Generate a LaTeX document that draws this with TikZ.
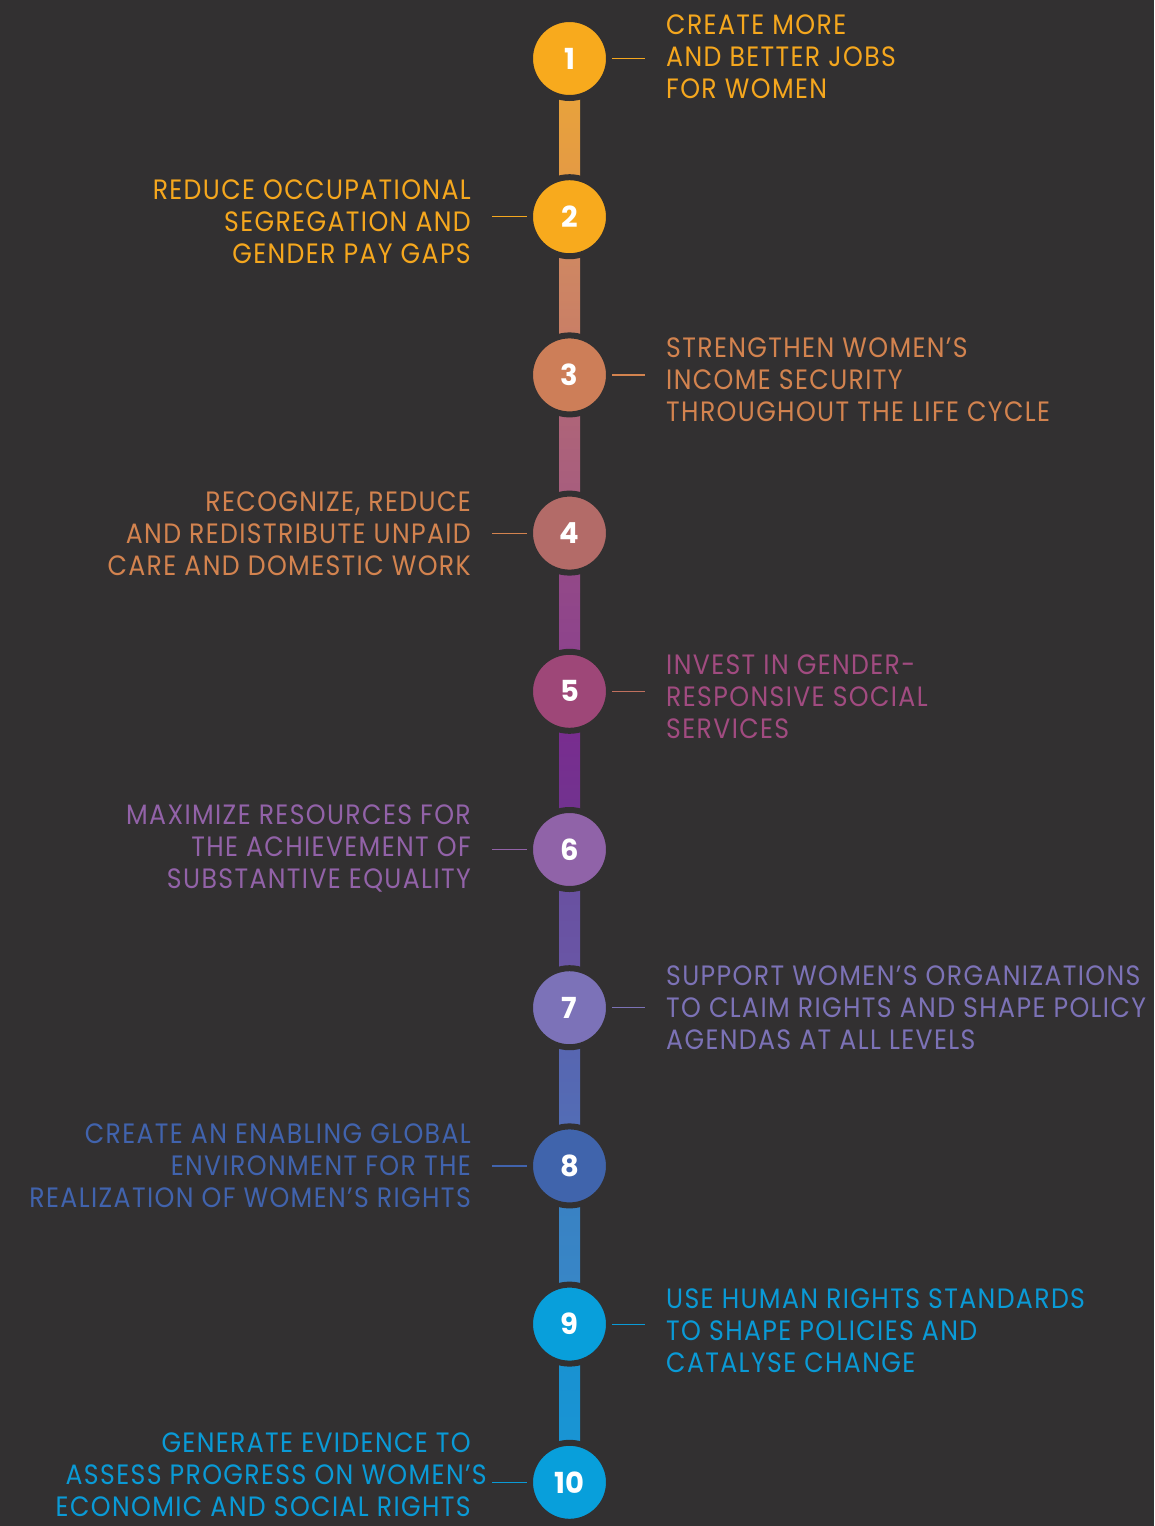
\documentclass[tikz,border=0pt]{standalone}
\usepackage{fontspec}
\setmainfont{Poppins}[FakeStretch=0.9, LetterSpace=4.9]
\newfontfamily\numfont{Poppins}
\usetikzlibrary{calc}
\definecolor{bg}{RGB}{50,48,49}
\definecolor{cA}{HTML}{F8AA1D}
\definecolor{cC}{HTML}{CD7E58}
\definecolor{cD}{HTML}{B36B68}
\definecolor{cE}{HTML}{9E4778}
\definecolor{cF}{HTML}{9063A8}
\definecolor{cG}{HTML}{7C72B8}
\definecolor{cH}{HTML}{4064AC}
\definecolor{cI}{HTML}{089FDB}
\definecolor{tA}{HTML}{F5A71E}
\definecolor{tC}{HTML}{D3834F}
\definecolor{tE}{HTML}{A14B80}
\definecolor{tF}{HTML}{9262A8}
\definecolor{tG}{HTML}{7C72B6}
\definecolor{tH}{HTML}{4163AD}
\definecolor{tI}{HTML}{0A9AD6}
\definecolor{lE}{HTML}{C0705E}
\begin{document}
\begin{tikzpicture}[x=1pt,y=-1pt,
  numc/.style={circle, minimum size=79pt, inner sep=0pt, line width=6pt, draw=bg, fill=#1, text=white,
    font=\numfont\bfseries\fontsize{29}{29}\selectfont},
  rtext/.style={anchor=west, align=left, inner sep=0pt, text=#1, font=\fontsize{28}{32}\selectfont},
  ltext/.style={anchor=east, align=right, inner sep=0pt, text=#1, font=\fontsize{28}{32}\selectfont},
  rconn/.style={draw=#1, line width=1.2pt, shorten >=21pt},
  lconn/.style={draw=#1, line width=1.2pt, shorten <=21pt}]
\fill[bg] (0,0) rectangle (1154,1526);
\useasboundingbox (0,0) rectangle (1154,1526);
% bar segments
\shade[top color={rgb,255:red,234;green,166;blue,56}, bottom color={rgb,255:red,226;green,150;blue,72}] (559,58.5) rectangle (580,216.7);
\shade[top color={rgb,255:red,210;green,140;blue,96}, bottom color={rgb,255:red,198;green,122;blue,104}] (559,216.7) rectangle (580,374.9);
\shade[top color={rgb,255:red,178;green,104;blue,118}, bottom color={rgb,255:red,164;green,90;blue,128}] (559,374.9) rectangle (580,533.1);
\shade[top color={rgb,255:red,150;green,76;blue,134}, bottom color={rgb,255:red,138;green,64;blue,142}] (559,533.1) rectangle (580,691.3);
\shade[top color={rgb,255:red,124;green,42;blue,142}, bottom color={rgb,255:red,110;green,53;blue,144}] (559,691.3) rectangle (580,849.5);
\shade[top color={rgb,255:red,106;green,78;blue,158}, bottom color={rgb,255:red,104;green,88;blue,168}] (559,849.5) rectangle (580,1007.7);
\shade[top color={rgb,255:red,90;green,98;blue,174}, bottom color={rgb,255:red,80;green,112;blue,184}] (559,1007.7) rectangle (580,1165.9);
\shade[top color={rgb,255:red,58;green,128;blue,194}, bottom color={rgb,255:red,55;green,136;blue,200}] (559,1165.9) rectangle (580,1324.1);
\shade[top color={rgb,255:red,26;green,144;blue,208}, bottom color={rgb,255:red,24;green,150;blue,213}] (559,1324.1) rectangle (580,1482.3);
% circles
\node[numc=cA] (c1) at (569.5,58.5) {1};
\node[numc=cA] (c2) at (569.5,216.7) {2};
\node[numc=cC] (c3) at (569.5,374.9) {3};
\node[numc=cD] (c4) at (569.5,533.1) {4};
\node[numc=cE] (c5) at (569.5,691.3) {5};
\node[numc=cF] (c6) at (569.5,849.5) {6};
\node[numc=cG] (c7) at (569.5,1007.7) {7};
\node[numc=cH] (c8) at (569.5,1165.9) {8};
\node[numc=cI] (c9) at (569.5,1324.1) {9};
\node[numc=cI] (c10) at (569.5,1482.3) {10};
% texts
\node[rtext=tA] (t1) at (666,57) {CREATE MORE\\AND BETTER JOBS\\FOR WOMEN};
\node[ltext=tA] (t2) at (471,222) {REDUCE OCCUPATIONAL\\SEGREGATION AND\\GENDER PAY GAPS};
\node[rtext=tC] (t3) at (666,380) {STRENGTHEN WOMEN’S\\INCOME SECURITY\\THROUGHOUT THE LIFE CYCLE};
\node[ltext=tC] (t4) at (471,534) {RECOGNIZE, REDUCE\\AND REDISTRIBUTE UNPAID\\CARE AND DOMESTIC WORK};
\node[rtext=tE] (t5) at (666,697) {INVEST IN GENDER-\\RESPONSIVE SOCIAL\\SERVICES};
\node[ltext=tF] (t6) at (471,848) {MAXIMIZE RESOURCES FOR\\THE ACHIEVEMENT OF\\SUBSTANTIVE EQUALITY};
\node[rtext=tG] (t7) at (666,1008) {SUPPORT WOMEN’S ORGANIZATIONS\\TO CLAIM RIGHTS AND SHAPE POLICY\\AGENDAS AT ALL LEVELS};
\node[ltext=tH] (t8) at (471,1166) {CREATE AN ENABLING GLOBAL\\ENVIRONMENT FOR THE\\REALIZATION OF WOMEN’S RIGHTS};
\node[rtext=tI] (t9) at (666,1331) {USE HUMAN RIGHTS STANDARDS\\TO SHAPE POLICIES AND\\CATALYSE CHANGE};
\node[ltext=tI] (t10) at (471,1475) {GENERATE EVIDENCE TO\\ASSESS PROGRESS ON WOMEN’S\kern-16pt\\ECONOMIC AND SOCIAL RIGHTS};
% connectors
\draw[rconn=tA] (c1.east) -- (c1.east -| t1.west);
\draw[lconn=tA] (c2.west -| t2.east) -- (c2.west);
\draw[rconn=tC] (c3.east) -- (c3.east -| t3.west);
\draw[lconn=tC] (c4.west -| t4.east) -- (c4.west);
\draw[rconn=lE] (c5.east) -- (c5.east -| t5.west);
\draw[lconn=tF] (c6.west -| t6.east) -- (c6.west);
\draw[rconn=tG] (c7.east) -- (c7.east -| t7.west);
\draw[lconn=tH] (c8.west -| t8.east) -- (c8.west);
\draw[rconn=tI] (c9.east) -- (c9.east -| t9.west);
\draw[lconn=tI] (c10.west -| t10.east) -- (c10.west);
\end{tikzpicture}
\end{document}
